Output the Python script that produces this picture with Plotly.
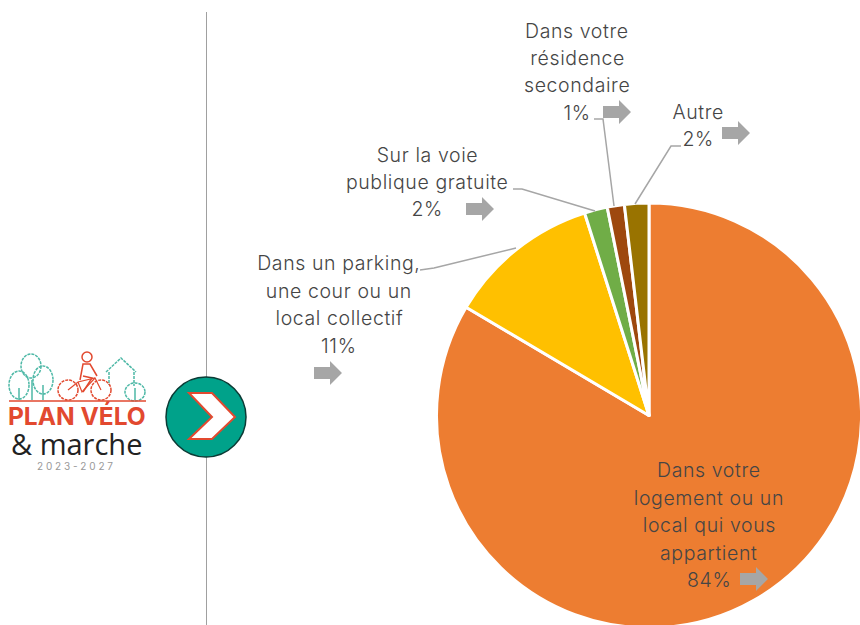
import plotly.graph_objects as go

categories = ["Dans votre logement ou un local qui vous appartient",
              "Dans un parking, une cour ou un local collectif",
              "Sur la voie publique gratuite",
              "Dans votre résidence secondaire",
              "Autre"]
values = [83.5, 11.6, 1.75, 1.3, 1.85]
colors = ["#ED7D31", "#FFC000", "#70AD47", "#9E480E", "#997300"]

W, H = 862, 640
FONT = "Inter"
TXT = "#454545"
GREY = "#A6A6A6"
TEAL = "#4DB8A6"
RED = "#E2492F"

def px(x): return x / W
def py(y): return 1 - y / H

fig = go.Figure(go.Pie(
    labels=categories, values=values, sort=False, direction="clockwise", rotation=0,
    marker=dict(colors=colors, line=dict(color="white", width=3)),
    textinfo="none", hoverinfo="skip", showlegend=False,
    domain=dict(x=[436 / W, 1], y=[py(628), py(203)]),
))

shapes, annos = [], []

def text_block(lines, cx, ys):
    for t, y in zip(lines, ys):
        annos.append(dict(text=t, x=px(cx), y=py(y), xref="paper", yref="paper", showarrow=False,
                          xanchor="center", yanchor="middle",
                          font=dict(family=FONT, size=19.5, color=TXT, weight=300)))

text_block(["Dans votre", "résidence", "secondaire", "1%"], 577, [31, 58, 85, 113])
text_block(["Autre", "2%"], 698, [112, 139])
text_block(["Sur la voie", "publique gratuite", "2%"], 427, [155, 182, 209])
text_block(["Dans un parking,", "une cour ou un", "local collectif", "11%"], 339, [263, 291, 318, 346])
text_block(["Dans votre", "logement ou un", "local qui vous", "appartient", "84%"], 709, [470, 498, 525, 553, 580])

def path(pts, close=False):
    return "M" + " L".join(f"{px(x):.5f},{py(y):.5f}" for x, y in pts) + (" Z" if close else "")

def poly(pts, fill=None, line=None, width=1, close=False, dash=None):
    s = dict(type="path", xref="paper", yref="paper", path=path(pts, close),
             line=dict(color=line or "rgba(0,0,0,0)", width=width if line else 0))
    if dash: s["line"]["dash"] = dash
    if fill: s["fillcolor"] = fill
    shapes.append(s)

def oval(cx, cy, rx, ry, fill=None, line=None, width=1, dash=None):
    s = dict(type="circle", xref="paper", yref="paper", x0=px(cx - rx), x1=px(cx + rx),
             y0=py(cy + ry), y1=py(cy - ry), line=dict(color=line or "rgba(0,0,0,0)", width=width))
    if dash: s["line"]["dash"] = dash
    if fill: s["fillcolor"] = fill
    shapes.append(s)

# separator
poly([(206.5, 12), (206.5, 625)], line="#A0A0A0", width=1)

# leader lines
poly([(420, 270), (434, 268), (516, 248)], line=GREY, width=1.5)
poly([(513, 189), (522, 189), (595, 211)], line=GREY, width=1.5)
poly([(594, 119), (603, 119), (614, 206)], line=GREY, width=1.5)
poly([(681, 146), (671, 146), (635, 204)], line=GREY, width=1.5)

# trend arrows
def arrow(x0, cy):
    poly([(x0, cy - 6), (x0 + 16, cy - 6), (x0 + 16, cy - 12), (x0 + 28, cy),
          (x0 + 16, cy + 12), (x0 + 16, cy + 6), (x0, cy + 6)], fill=GREY, close=True)

for x0, cy in [(603, 112), (722, 133), (466, 209), (314, 373), (740, 579)]:
    arrow(x0, cy)

# badge
oval(206, 417, 40, 40, fill="#00A28A", line="#0B3B35", width=1.5)
poly([(189, 393), (212, 393), (235, 417), (212, 439), (189, 439), (212, 417)],
     fill="white", line=RED, width=2, close=True)

# logo drawing
DOT = "3px,1px"
oval(19, 385, 10, 14, line=TEAL, width=1.5, dash=DOT)
oval(31, 366, 10, 12, line=TEAL, width=1.5, dash=DOT)
oval(43, 380, 10, 14, line=TEAL, width=1.5, dash=DOT)
for x0, y0 in [(19, 388), (32, 380), (43, 385)]:
    poly([(x0, y0), (x0, 400)], line=TEAL, width=1.5)
poly([(106, 372), (121, 358), (136, 372)], line=TEAL, width=1.5, dash=DOT)
poly([(109, 372), (109, 385)], line=TEAL, width=1.5, dash=DOT)
poly([(134, 372), (134, 386)], line=TEAL, width=1.5, dash=DOT)
oval(135, 392, 10, 9, line=TEAL, width=1.5, dash=DOT)
poly([(135, 388), (135, 400)], line=TEAL, width=1.5)
poly([(9, 401), (146, 401)], line=RED, width=1.5)
oval(68, 390, 10, 10, line=RED, width=1.5, dash=DOT)
oval(101, 390, 10, 10, line=RED, width=1.5, dash=DOT)
oval(87, 357, 5, 5, line=RED, width=1.5)
poly([(68, 390), (78, 382), (95, 378), (101, 390)], line=RED, width=1.2)
poly([(78, 382), (82, 392), (95, 378)], line=RED, width=1.2)
poly([(80, 380), (83, 364), (90, 364), (97, 376)], line=RED, width=1.5)
poly([(83, 376), (92, 378), (83, 392)], line=RED, width=1.5)

def logo_text(t, cx, cy, size, color, bold=False, family=FONT):
    txt = f"<b>{t}</b>" if bold else t
    annos.append(dict(text=txt, x=px(cx), y=py(cy), xref="paper", yref="paper", showarrow=False,
                      xanchor="center", yanchor="middle",
                      font=dict(family=family, size=size, color=color)))

logo_text("PLAN VÉLO", 76.5, 416, 24.5, RED, bold=True, family="Inter")
logo_text("&amp; marche", 76, 443, 29, "#222222", family="Open Sans")
logo_text("2 0 2 3 - 2 0 2 7", 75, 466, 10, "#999999")

fig.update_layout(width=W, height=H, margin=dict(l=0, r=0, t=0, b=0),
                  paper_bgcolor="white", plot_bgcolor="white",
                  shapes=shapes, annotations=annos, showlegend=False)

post = """
document.documentElement.style.overflow='hidden';
document.body.style.margin='0';
document.body.style.overflow='hidden';
function spaceLabels(){
  document.querySelectorAll('.annotation-text').forEach(function(t){
    if (parseFloat(t.style.fontSize) === 19.5) { t.style.letterSpacing = '0.6px'; }
  });
}
spaceLabels();
setTimeout(spaceLabels, 50);
"""
fig.write_html("out.html", config=dict(displayModeBar=False), post_script=post)
